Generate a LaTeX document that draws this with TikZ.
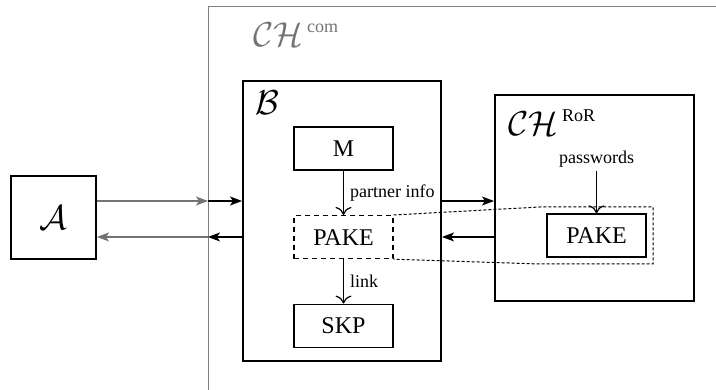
\documentclass[tikz,border=0pt]{standalone}
\usepackage{fontspec}
\setmainfont{Liberation Serif}
\usepackage{amsmath}
\usetikzlibrary{arrows.meta, positioning, calc, fit}
\newcommand{\chname}[1]{$\mathcal{CH}^{\,\mbox{\small #1}}$}

\begin{document}
\begin{tikzpicture}[
    node distance=0.78cm,
    bigbox/.style={draw, line width=1pt, inner sep=0pt},
    box/.style={draw, line width=0.6pt, minimum width=1.74cm, minimum height=0.756cm, inner sep=0pt, font=\large},
    dbox/.style={box, dash pattern=on 2.5pt off 2pt},
    arr/.style={-{To[length=4pt, width=8pt]}, line width=0.6pt},
    barr/.style={-{Stealth[length=6pt, width=4.5pt, inset=1.5pt]}, line width=0.6pt},
    garr/.style={barr, black!55},
    frame/.style={black!50, line width=0.45pt},
    dots/.style={line width=0.5pt, dash pattern=on 1.5pt off 1pt},
    lbl/.style={font=\small, inner sep=2pt},
    cal/.style={font=\LARGE, inner sep=0pt, anchor=base west}
]
\useasboundingbox (0,0) rectangle (12.582,6.853);

% Challenger frame
\coordinate (fbot) at (3.655,0);
\coordinate (ftop) at (3.655,6.748);
\coordinate (fend) at (12.582,6.748);
\draw[frame] (fbot) -- (ftop) -- (fend);
\node[cal, text=black!55] (comlbl) at (4.446,6.028) {\chname{com}};

% Parties
\node[bigbox, minimum width=1.494cm, minimum height=1.459cm, font=\LARGE] (adv) at (0.940,3.031) {$\mathcal{A}$};
\node[bigbox, minimum width=3.479cm, minimum height=4.920cm] (b) at (6.010,2.970) {};
\node[bigbox, minimum width=3.497cm, minimum height=3.620cm] (ror) at (10.447,3.374) {};
\node[cal] (blbl) at (4.481,4.833) {$\mathcal{B}$};
\node[cal] (rorlbl) at (8.927,4.464) {\chname{RoR}};

% Inside B
\node[box] (m) at (6.036,4.244) {M};
\node[dbox, below=of m] (pake) {PAKE};
\node[box, below=of pake] (skp) {SKP};
\draw[arr] (m) -- (pake) node[lbl, midway, right, xshift=1pt] (lpartner) {partner info};
\draw[arr] (pake) -- (skp) node[lbl, midway, right, xshift=1pt] (llink) {link};

% Inside RoR
\node[box] (rpake) at (10.482,2.715) {PAKE};
\node[lbl, above=0.74cm of rpake] (pw) {passwords};
\draw[arr] (pw) -- (rpake);
\node[fit=(rpake), inner sep=3pt] (rfit) {};
\draw[dots] (pake.north east) -- (rfit.north west) -- (rfit.north east) -- (rfit.south east) -- (rfit.south west) -- (pake.south east);

% Messages
\coordinate (in1) at (3.655,3.321);
\coordinate (out1) at (3.655,2.689);
\draw[garr] (adv.east |- in1) -- (in1);
\draw[barr] (in1) -- (b.west |- in1);
\draw[barr] (b.west |- out1) -- (out1);
\draw[garr] (out1) -- (adv.east |- out1);
\draw[barr] (b.east |- in1) -- (ror.west |- in1);
\draw[barr] (ror.west |- out1) -- (b.east |- out1);

\end{tikzpicture}
\end{document}
